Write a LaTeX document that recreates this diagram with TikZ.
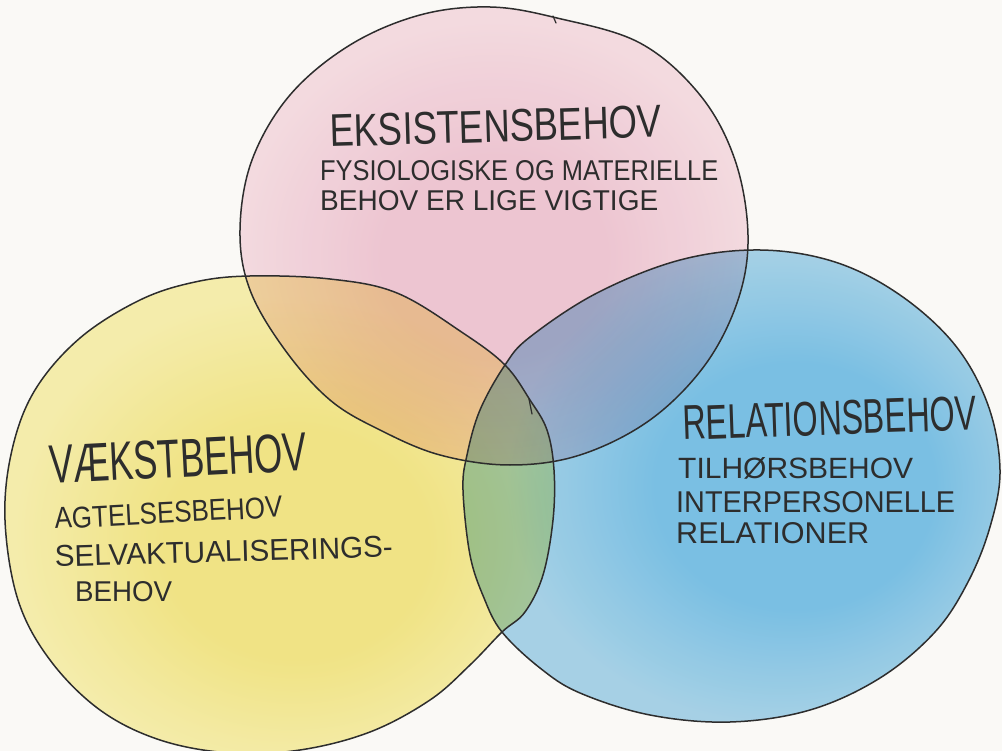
\documentclass[tikz,border=0pt]{standalone}
\usepackage{fontspec}
\usepackage{graphicx}
\setmainfont{Liberation Sans}
\definecolor{paper}{RGB}{250,249,246}
\definecolor{ink}{RGB}{45,45,45}
\definecolor{pinkin}{RGB}{242,202,217}
\definecolor{pinkout}{RGB}{248,224,232}
\definecolor{bluein}{RGB}{125,196,236}
\definecolor{blueout}{RGB}{170,214,238}
\definecolor{yellowin}{RGB}{245,233,138}
\definecolor{yellowout}{RGB}{249,242,178}
% watercolour washes: strongest pigment off-centre, thinning towards the rim
% (a shaded path's bounding box covers the central 50bp of the shading)
\pgfdeclareradialshading{pinkwash}{\pgfpoint{0bp}{-3bp}}{color(0bp)=(pinkin); color(11bp)=(pinkin); color(25bp)=(pinkout); color(50bp)=(pinkout)}
\pgfdeclareradialshading{bluewash}{\pgfpoint{8bp}{0bp}}{color(0bp)=(bluein); color(13bp)=(bluein); color(25bp)=(blueout); color(50bp)=(blueout)}
\pgfdeclareradialshading{yellowwash}{\pgfpoint{2bp}{-4bp}}{color(0bp)=(yellowin); color(12bp)=(yellowin); color(25bp)=(yellowout); color(50bp)=(yellowout)}
% squeeze a line of capitals into a given width and cap height
\newcommand{\hwtext}[3]{\resizebox{#1}{#2}{#3}}
\tikzset{
  outline/.style={draw=ink, line width=1.5pt, line join=round, line cap=round},
  wash/.style={blend mode=multiply},
  lbl/.style={anchor=base west, inner sep=0pt, text=ink},
}
\begin{document}
\begin{tikzpicture}[x=1pt,y=-1pt]
\useasboundingbox (0,0) rectangle (1002,751);
\fill[paper] (0,0) rectangle (1002,751);

% the three circle outlines as hand-drawn closed curves
\def\pinkpath{plot[smooth cycle, tension=0.6] coordinates {
  (490,7) (557,18) (640,43) (700,95) (735,160) (748,235) (738,300)
  (705,365) (650,420) (580,455) (510,465) (440,455) (380,430) (330,400)
  (285,350) (250,290) (240,230) (252,160) (290,95) (350,45) (420,15)}}
\def\yellowpath{plot[smooth cycle, tension=0.6] coordinates {
  (250,276) (330,279) (397,293) (463,333) (505,365) (530,400) (547,430)
  (554,470) (553,520) (543,575) (525,612) (502,632) (470,665) (430,700)
  (370,732) (300,750) (230,753) (160,740) (100,710) (50,660) (18,600)
  (5,520) (12,450) (35,390) (80,338) (140,300) (195,282)}}
\def\bluepath{plot[smooth cycle, tension=0.6] coordinates {
  (463,490) (470,555) (484,598) (502,632) (540,668) (580,693) (650,715)
  (730,722) (810,710) (880,678) (935,632) (968,582) (990,527) (1000,470)
  (988,405) (955,345) (900,295) (835,262) (760,250) (680,260) (597,293)
  (530,337) (505,365) (480,410) (467,455)}}

% watercolour washes
\shade[shading=yellowwash, wash] \yellowpath;
\shade[shading=bluewash, wash] \bluepath;
\shade[shading=pinkwash, wash] \pinkpath;

\draw[outline] \pinkpath;
\draw[outline] \yellowpath;
\draw[outline] \bluepath;
% small pen ticks
\draw[outline, line width=1.2pt] (553,16) -- (556,23);
\draw[outline, line width=1.2pt] (529,399) -- (532,414);

% texts: existence needs
\node[lbl, rotate=1.7] (eks) at (330,147) {\hwtext{332pt}{32pt}{EKSISTENSBEHOV}};
\node[lbl] (eks1) at (320,181) {\hwtext{398pt}{20pt}{FYSIOLOGISKE OG MATERIELLE}};
\node[lbl] (eks2) at (320,211) {\hwtext{338pt}{20pt}{BEHOV ER LIGE VIGTIGE}};

% growth needs
\node[lbl, rotate=3] (vaekst) at (50,484) {\hwtext{258pt}{38pt}{VÆKSTBEHOV}};
\node[lbl, rotate=3] (vaekst1) at (55,529) {\hwtext{228pt}{21pt}{AGTELSESBEHOV}};
\node[lbl, rotate=1.7] (vaekst2) at (55,567) {\hwtext{338pt}{21pt}{SELVAKTUALISERINGS-}};
\node[lbl] (vaekst3) at (75,601) {\hwtext{97pt}{20pt}{BEHOV}};

% relatedness needs
\node[lbl, rotate=2] (rel) at (683,440) {\hwtext{294pt}{34pt}{RELATIONSBEHOV}};
\node[lbl] (rel1) at (678,478) {\hwtext{235pt}{21pt}{TILHØRSBEHOV}};
\node[lbl] (rel2) at (676,512) {\hwtext{279pt}{21pt}{INTERPERSONELLE}};
\node[lbl] (rel3) at (676,543) {\hwtext{193pt}{21pt}{RELATIONER}};
\end{tikzpicture}
\end{document}
